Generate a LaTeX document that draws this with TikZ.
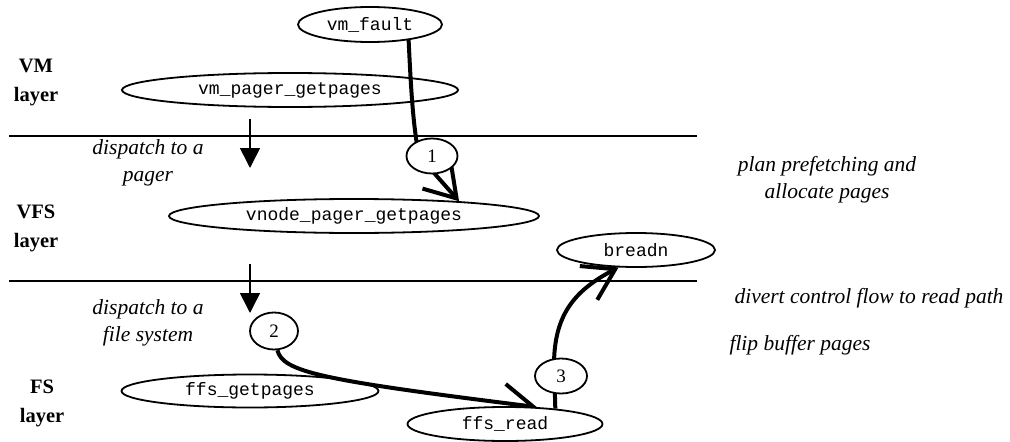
\documentclass[tikz,border=0pt]{standalone}
\usepackage{fontspec}
\setmainfont{Liberation Serif}
\setmonofont{Liberation Mono}
\usetikzlibrary{arrows.meta,shapes.geometric}
\pgfdeclarelayer{links}
\pgfsetlayers{links,main}

\begin{document}
\begin{tikzpicture}[x=1pt,y=-1pt,
  fn/.style={draw, line width=1.8pt, ellipse, inner sep=0pt,
    font=\fontsize{18}{20}\selectfont\ttfamily},
  num/.style={draw, fill=white, line width=1.8pt, ellipse, inner sep=0pt,
    font=\fontsize{19}{21}\selectfont},
  layertag/.style={align=center, inner sep=0pt, font=\fontsize{20.5}{29}\selectfont\bfseries},
  note/.style={align=center, inner sep=0pt, font=\fontsize{21.5}{27}\selectfont\itshape},
  divider/.style={line width=2pt},
  flow/.style={line width=4pt, -{Straight Barb[length=30pt,width=38pt]}},
  down/.style={line width=1.6pt, -{Triangle[length=20pt,width=20pt]}}
]
\useasboundingbox (0,0) rectangle (1010,442);

% layer boundaries
\coordinate (l1a) at (9,136);  \coordinate (l1b) at (697,136);
\coordinate (l2a) at (9,281);  \coordinate (l2b) at (697,281);
\draw[divider] (l1a) -- (l1b);
\draw[divider] (l2a) -- (l2b);

% layer names
\node[layertag] (tvm)  at (36,82)  {VM\\layer};
\node[layertag] (tvfs) at (36,228) {VFS\\layer};
\node[layertag] (tfs)  at (42,403) {FS\\layer};

% functions
\node[fn, minimum width=144pt, minimum height=35pt] (vmf) at (370,24.5) {vm\_fault};
\node[fn, minimum width=336pt, minimum height=34pt] (vmp) at (290,90) {vm\_pager\_getpages};
\node[fn, minimum width=370pt, minimum height=34pt] (vn)  at (354,216) {vnode\_pager\_getpages};
\node[fn, minimum width=158pt, minimum height=34pt] (br)  at (636,250) {breadn};
\node[fn, minimum width=257pt, minimum height=33pt] (fg)  at (250,391) {ffs\_getpages};
\node[fn, fill=white, minimum width=195pt, minimum height=34pt] (fr) at (505,424) {ffs\_read};

% step numbers
\node[num, minimum width=51pt, minimum height=35pt] (c1) at (432,156) {1};
\node[num, minimum width=48pt, minimum height=37pt] (c2) at (274,331) {2};
\node[num, minimum width=52pt, minimum height=35pt] (c3) at (561,376) {3};

% notes
\node[note] (n1) at (148,163) {dispatch to a\\pager};
\node[note] (n2) at (148,323) {dispatch to a\\file system};
\node[note] (n3) at (827,180) {plan prefetching and\\allocate pages};
\node[note] (n4) at (869,298) {divert control flow to read path};
\node[note] (n5) at (800,345) {flip buffer pages};

% dispatch arrows
\coordinate (d1a) at (250,119); \coordinate (d1b) at (250,168);
\coordinate (d2a) at (250,264); \coordinate (d2b) at (250,313);
\draw[down] (d1a) -- (d1b);
\draw[down] (d2a) -- (d2b);

% control flow
\coordinate (k1) at (419,156);
\coordinate (k3) at (554,362);
\begin{pgfonlayer}{links}
\draw[flow] (vmf.-22) .. controls (411,90) and (413,125) .. (k1) -- (vn.8.5);
\draw[flow] (c2.-80) .. controls (283,372) and (320,380) .. (fr.28);
\draw[flow] (fr.17) -- (k3) .. controls (555,318) and (571,292) .. (br.-135);
\end{pgfonlayer}
\end{tikzpicture}
\end{document}
